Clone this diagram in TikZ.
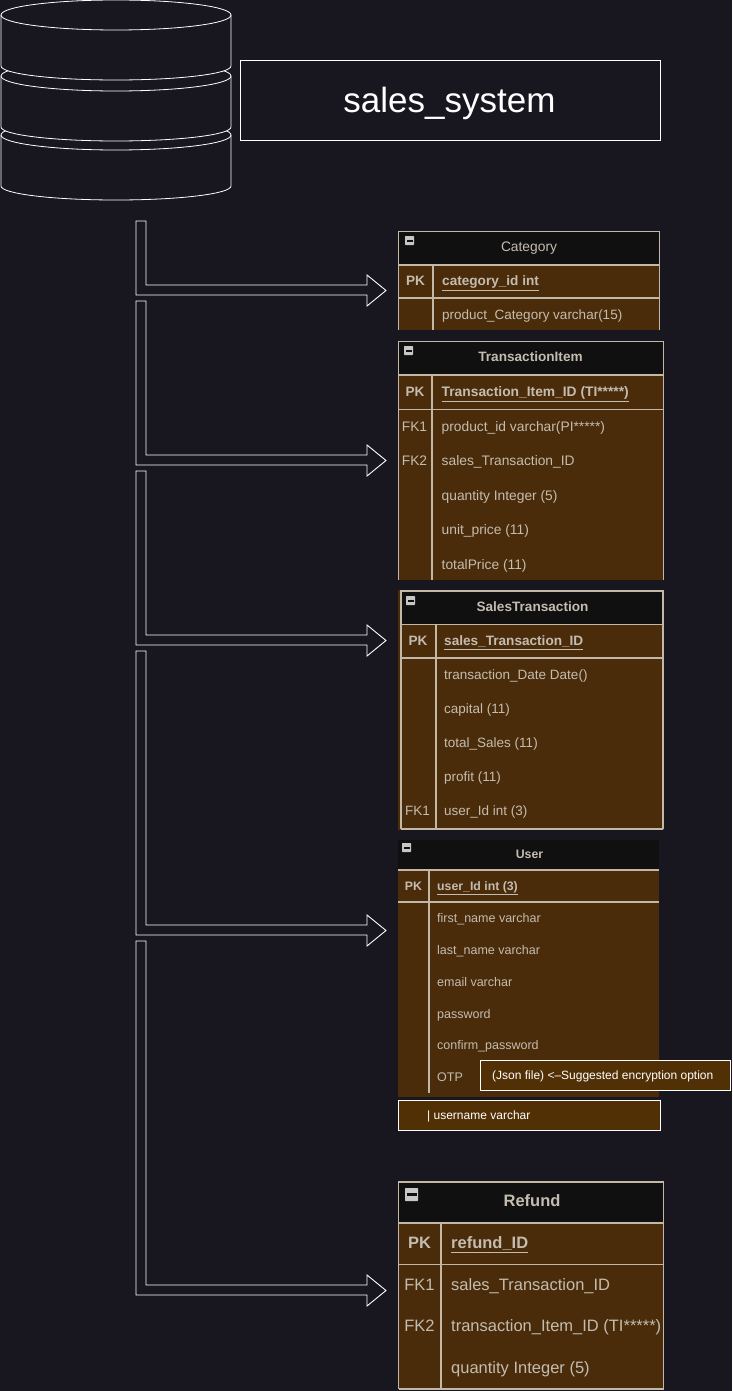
\documentclass[tikz,border=0pt]{standalone}
\usepackage{fontspec}
\setmainfont{Liberation Sans}
\definecolor{bgc}{RGB}{24,22,30}
\definecolor{brownc}{RGB}{74,44,10}
\definecolor{brownb}{RGB}{82,48,6}
\definecolor{headc}{RGB}{16,16,16}
\definecolor{linec}{RGB}{195,184,166}
\definecolor{txtc}{RGB}{196,188,176}
\tikzset{
  wline/.style={draw=white,line width=0.9pt},
  tline/.style={draw=linec,line width=1.1pt},
  celltxt/.style={text=txtc,inner sep=0pt,anchor=base west},
  keytxt/.style={text=txtc,inner sep=0pt,anchor=base},
  titletxt/.style={text=txtc,inner sep=0pt,anchor=base},
  notebox/.style={draw=white,line width=0.9pt,fill=brownb,inner sep=0pt,outer sep=0pt,anchor=north west},
  notetxt/.style={inner sep=0pt,text=white,anchor=base west,font=\fontsize{12}{14}\selectfont,yshift=-4.3pt},
  fsa/.style={font=\fontsize{13.8}{16}\selectfont,yshift=-4.8pt},
  fsm/.style={font=\fontsize{13.5}{16}\selectfont,yshift=-4.8pt},
  fsab/.style={font=\fontsize{13.6}{16}\selectfont\bfseries,yshift=-4.8pt},
  fsat/.style={font=\fontsize{13.8}{16}\selectfont\bfseries,yshift=-4.8pt},
  fsb/.style={font=\fontsize{12.5}{14}\selectfont,yshift=-4.3pt},
  fsbb/.style={font=\fontsize{12.3}{14}\selectfont\bfseries,yshift=-4.3pt},
  fsc/.style={font=\fontsize{16.5}{18}\selectfont,yshift=-5.8pt},
  fscb/.style={font=\fontsize{16.5}{18}\selectfont\bfseries,yshift=-5.8pt}
}
% y axis points down: angles 180 to 360 bulge upward on the page, 180 to 0 downward
\newcommand{\cyl}[2]{%
  \path[fill=bgc] (1,#1) arc[start angle=180,end angle=360,x radius=115,y radius=15] -- (231,#2)
     arc[start angle=0,end angle=180,x radius=115,y radius=14] -- cycle;
  \draw[wline,line width=0.8pt] (1,#1) -- (1,#2) arc[start angle=180,end angle=0,x radius=115,y radius=14] -- (231,#1);
  \draw[wline,line width=0.8pt] (1,#1) arc[start angle=180,end angle=0,x radius=115,y radius=15]
     arc[start angle=0,end angle=-180,x radius=115,y radius=15];
}
\newcommand{\blockarrow}[3]{%
  \draw[wline] (136,#1) -- (146,#1) -- (146,#2) -- (367,#2) -- (367,#2-10) -- (386,#2+5.5)
     -- (367,#2+21) -- (367,#3) -- (136,#3) -- cycle;
}
\newcommand{\tablebase}[6]{%
  \fill[brownc] (#1,#3) rectangle (#2,#5);
  \fill[headc] (#1,#3) rectangle (#2,#4);
  \draw[tline] (#1,#5) -- (#1,#3) -- (#2,#3) -- (#2,#5);
  \draw[tline] (#1,#4) -- (#2,#4);
  \draw[tline] (#6,#4) -- (#6,#5);
}
\newcommand{\icon}[3]{%
  \fill[rounded corners=0.6pt,fill=white!78!black] (#1,#2) rectangle ++(#3,#3);
  \fill[headc] (#1+1.5,#2+#3*0.42) rectangle ++(#3-3,#3*0.2);
}
\begin{document}
\begin{tikzpicture}[x=1pt,y=-1pt]
\fill[bgc] (0,0) rectangle (732,1391);
\useasboundingbox (0,0) rectangle (732,1391);
% cylinders
\cyl{135}{186}
\cyl{76}{127}
\cyl{15}{66}
% title
\node[draw=white,line width=0.9pt,inner sep=0pt,outer sep=0pt,minimum width=420pt,minimum height=80pt,anchor=north west] (title) at (240.5,60.5) {};
\node[text=white,inner sep=0pt,anchor=base,font=\fontsize{35}{38}\selectfont] (titletext) at (449.5,113) {sales\_system};
% arrows
\blockarrow{221}{285}{295}
\blockarrow{301}{455}{465}
\blockarrow{471}{635}{645}
\blockarrow{651}{925}{935}
\blockarrow{941}{1285}{1295}
% Category
\tablebase{398.8}{659.5}{231.5}{265}{330}{433}
\draw[tline] (398.8,298) -- (659.5,298);
\icon{405}{236}{9}
\node[titletxt,fsa] (cattitle) at (529,247) {Category};
\node[keytxt,fsab] (catk1) at (415.5,281) {PK};
\node[celltxt,fsab] (catc1) at (442,281) {\underline{category\_id int}};
\node[celltxt,fsm] (catc2) at (442,315) {product\_Category varchar(15)};
% TransactionItem
\tablebase{398.8}{663.5}{341.5}{375}{580}{432}
\draw[tline] (398.8,409.5) -- (663.5,409.5);
\icon{404}{346}{9}
\node[titletxt,fsab] (tititle) at (530.5,357) {TransactionItem};
\node[keytxt,fsab] (tik1) at (415,392) {PK};
\node[keytxt,fsa] (tik2) at (414.5,427) {FK1};
\node[keytxt,fsa] (tik3) at (414.5,461) {FK2};
\node[celltxt,fsat] (tic1) at (441.5,392) {\underline{Transaction\_Item\_ID (TI*****)}};
\node[celltxt,fsa] (tic2) at (441.5,427) {product\_id varchar(PI*****)};
\node[celltxt,fsa] (tic3) at (441.5,461) {sales\_Transaction\_ID};
\node[celltxt,fsa] (tic4) at (441.5,496) {quantity Integer (5)};
\node[celltxt,fsa] (tic5) at (441.5,530) {unit\_price (11)};
\node[celltxt,fsa] (tic6) at (441.5,565) {totalPrice (11)};
% SalesTransaction
\fill[brownc] (398,590) rectangle (664,830);
\tablebase{401}{663}{591}{624.5}{829}{436}
\draw[tline] (401,658) -- (663,658);
\draw[tline] (401,829) -- (663,829);
\icon{406}{596}{9}
\node[titletxt,fsab] (sttitle) at (532.5,607) {SalesTransaction};
\node[keytxt,fsab] (stk1) at (418,641) {PK};
\node[keytxt,fsm] (stk2) at (417.5,811) {FK1};
\node[celltxt,fsab] (stc1) at (444,641) {\underline{sales\_Transaction\_ID}};
\node[celltxt,fsm] (stc2) at (444,675) {transaction\_Date Date()};
\node[celltxt,fsm] (stc3) at (444,709) {capital (11)};
\node[celltxt,fsm] (stc4) at (444,743) {total\_Sales (11)};
\node[celltxt,fsm] (stc5) at (444,777) {profit (11)};
\node[celltxt,fsm] (stc6) at (444,811) {user\_Id int (3)};
% User
\fill[brownc] (398,870) rectangle (659,1097);
\fill[headc] (398,840) rectangle (659,870);
\draw[tline] (398,870) -- (659,870);
\draw[tline] (398,902) -- (659,902);
\draw[tline] (429,870) -- (429,1093);
\icon{402}{843}{9}
\node[titletxt,fsbb] (utitle) at (529.5,854) {User};
\node[keytxt,fsbb] (uk1) at (413.5,886) {PK};
\node[celltxt,fsbb] (uc1) at (437,886) {\underline{user\_Id int (3)}};
\node[celltxt,fsb] (uc2) at (437,918) {first\_name varchar};
\node[celltxt,fsb] (uc3) at (437,950) {last\_name varchar};
\node[celltxt,fsb] (uc4) at (437,982) {email varchar};
\node[celltxt,fsb] (uc5) at (437,1014) {password};
\node[celltxt,fsb] (uc6) at (437,1045) {confirm\_password};
\node[celltxt,fsb] (uc7) at (437,1077) {OTP};
% notes
\node[notebox,minimum width=250pt,minimum height=30pt] (note) at (480.5,1060.5) {};
\node[notetxt] (notetext) at (492,1075) {(Json file) <--Suggested encryption option};
\node[notebox,minimum width=262pt,minimum height=30pt] (uname) at (398.5,1100.5) {};
\node[notetxt] (unametext) at (427,1115) {| username varchar};
% Refund
\tablebase{398.8}{663.5}{1182}{1223}{1389}{441}
\draw[tline] (398.8,1264.5) -- (663.5,1264.5);
\draw[tline] (398.8,1389) -- (663.5,1389);
\icon{405}{1188}{13}
\node[titletxt,fscb] (rftitle) at (532,1201) {Refund};
\node[keytxt,fscb] (rfk1) at (419.5,1243) {PK};
\node[keytxt,fsc] (rfk2) at (419.5,1285) {FK1};
\node[keytxt,fsc] (rfk3) at (419.5,1326) {FK2};
\node[celltxt,fscb] (rfc1) at (451,1243) {\underline{refund\_ID}};
\node[celltxt,fsc] (rfc2) at (451,1285) {sales\_Transaction\_ID};
\node[celltxt,fsc] (rfc3) at (451,1326) {transaction\_Item\_ID (TI*****)};
\node[celltxt,fsc] (rfc4) at (451,1368) {quantity Integer (5)};
\end{tikzpicture}
\end{document}
